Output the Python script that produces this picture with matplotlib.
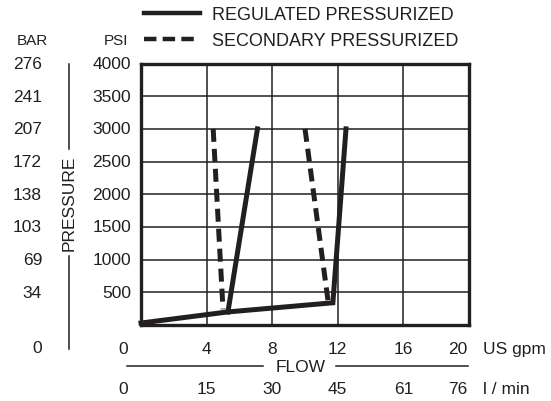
import matplotlib
matplotlib.use("Agg")
import matplotlib.pyplot as plt
from matplotlib.lines import Line2D
from matplotlib.transforms import blended_transform_factory

plt.rcParams['font.family'] = ['Liberation Sans', 'DejaVu Sans']

INK = '#231f20'

# data (flow in US gpm, pressure in psi)
reg_flow = [0.0, 5.3, 11.7, 12.5]
reg_psi = [30, 200, 340, 3000]
reg_branch_flow = [5.3, 7.1]
reg_branch_psi = [200, 3000]
sec1_flow = [4.4, 5.0]
sec1_psi = [3000, 240]
sec2_flow = [10.0, 11.4]
sec2_psi = [3000, 380]

psi_ticks = [500, 1000, 1500, 2000, 2500, 3000, 3500, 4000]
bar_labels = ['34', '69', '103', '138', '172', '207', '241', '276']
gpm_ticks = [4, 8, 12, 16]
lpm_labels = ['15', '30', '45', '61']

W, H = 551, 402
fig = plt.figure(figsize=(W / 100, H / 100), dpi=100)


def fx(px):
    return px / W


def fy(py):
    return 1 - py / H


ax = fig.add_axes([fx(141), fy(326), fx(469) - fx(141), fy(64.5) - fy(326)])
ax.set_xlim(0, 20)
ax.set_ylim(0, 4000)
ax.set_xticks([0, 4, 8, 12, 16, 20])
ax.set_yticks([0] + psi_ticks)
ax.grid(True, color=INK, lw=1.1)
ax.tick_params(length=0, labelbottom=False, labelleft=False)
for s in ax.spines.values():
    s.set_linewidth(2.4)
    s.set_color(INK)
    s.set_zorder(5)

lw = 3.6
ax.plot(reg_flow, reg_psi, color=INK, lw=lw, solid_joinstyle='miter', zorder=4, clip_on=False)
ax.plot(reg_branch_flow, reg_branch_psi, color=INK, lw=lw, zorder=4)
ax.plot(sec1_flow, sec1_psi, color=INK, lw=lw, ls=(0, (2.6, 1.4)), zorder=4)
ax.plot(sec2_flow, sec2_psi, color=INK, lw=lw, ls=(0, (2.6, 1.4)), zorder=4)

fs = 12.5
# y labels: PSI and BAR columns
ty = blended_transform_factory(fig.transFigure, ax.transData)
for p, b in zip(psi_ticks, bar_labels):
    fig.text(fx(131), p, f'{p}', transform=ty, ha='right', va='center', fontsize=fs, color=INK)
    fig.text(fx(42), p, b, transform=ty, ha='right', va='center', fontsize=fs, color=INK)
fig.text(fx(42), fy(349), '0', ha='right', va='center', fontsize=fs, color=INK)
fig.text(fx(128), fy(41), 'PSI', ha='right', va='center', fontsize=11, color=INK)
fig.text(fx(32), fy(41), 'BAR', ha='center', va='center', fontsize=11, color=INK)

# x labels: US gpm and l/min rows (the corner 0 is shared with the PSI column)
tx = blended_transform_factory(ax.transData, fig.transFigure)
for g, l in zip(gpm_ticks, lpm_labels):
    fig.text(g, fy(350), f'{g}', transform=tx, ha='center', va='center', fontsize=fs, color=INK)
    fig.text(g, fy(390), l, transform=tx, ha='center', va='center', fontsize=fs, color=INK)
fig.text(fx(123), fy(350), '0', ha='center', va='center', fontsize=fs, color=INK)
fig.text(fx(123), fy(390), '0', ha='center', va='center', fontsize=fs, color=INK)
fig.text(fx(467), fy(350), '20', ha='right', va='center', fontsize=fs, color=INK)
fig.text(fx(467), fy(390), '76', ha='right', va='center', fontsize=fs, color=INK)
fig.text(fx(483), fy(350), 'US gpm', ha='left', va='center', fontsize=fs, color=INK)
fig.text(fx(483), fy(390), 'l / min', ha='left', va='center', fontsize=fs, color=INK)

# axis titles with rules
fig.text(fx(301), fy(368), 'FLOW', ha='center', va='center', fontsize=fs, color=INK)
fig.add_artist(Line2D([fx(127), fx(263)], [fy(367), fy(367)], color=INK, lw=1.1))
fig.add_artist(Line2D([fx(336), fx(468)], [fy(367), fy(367)], color=INK, lw=1.1))
fig.text(fx(69), fy(203), 'PRESSURE', ha='center', va='center', rotation=90, fontsize=fs, color=INK)
fig.add_artist(Line2D([fx(69), fx(69)], [fy(65), fy(150)], color=INK, lw=1.1))
fig.add_artist(Line2D([fx(69), fx(69)], [fy(257), fy(350)], color=INK, lw=1.1))

# legend
fig.add_artist(Line2D([fx(144), fx(200)], [fy(14), fy(14)], color=INK, lw=3.2))
fig.add_artist(Line2D([fx(144), fx(200)], [fy(40), fy(40)], color=INK, lw=3.2, ls=(0, (2.8, 1.4))))
fig.text(fx(212), fy(15), 'REGULATED PRESSURIZED', ha='left', va='center', fontsize=13, color=INK)
fig.text(fx(212), fy(41), 'SECONDARY PRESSURIZED', ha='left', va='center', fontsize=13, color=INK)

fig.savefig('out.png', dpi=100)
